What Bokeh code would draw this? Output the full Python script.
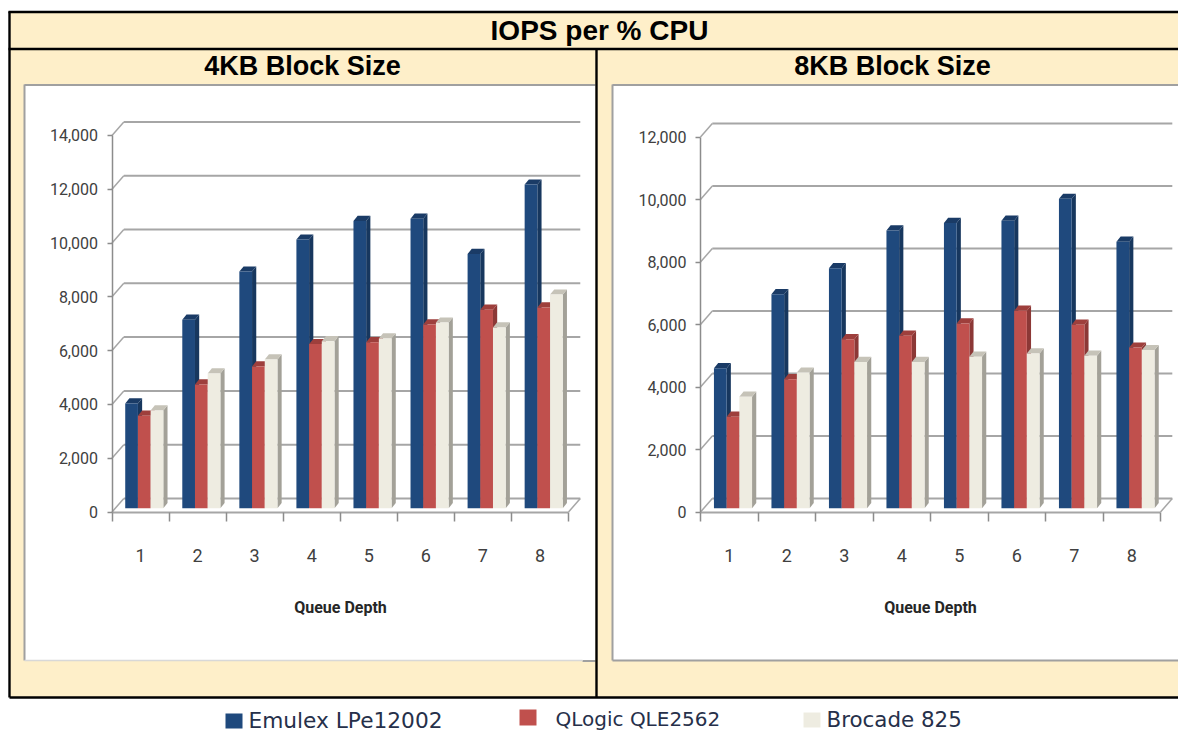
from bokeh.plotting import figure
from bokeh.models import Range1d, LinearAxis, FixedTicker, NumeralTickFormatter
from bokeh.core.properties import value
from bokeh.embed import file_html
from bokeh.resources import INLINE

queue_depth = [1, 2, 3, 4, 5, 6, 7, 8]
series_names = ["Emulex LPe12002", "QLogic QLE2562", "Brocade 825"]

emulex_4k = [3890, 7010, 8795, 9985, 10680, 10760, 9450, 12030]
qlogic_4k = [3440, 4600, 5270, 6100, 6170, 6830, 7380, 7460]
brocade_4k = [3630, 5010, 5530, 6210, 6310, 6900, 6720, 7940]

emulex_8k = [4480, 6850, 7680, 8890, 9130, 9200, 9900, 8530]
qlogic_8k = [2930, 4130, 5410, 5520, 5910, 6320, 5870, 5140]
brocade_8k = [3570, 4340, 4680, 4680, 4850, 4950, 4880, 5060]

yticks_4k = [0, 2000, 4000, 6000, 8000, 10000, 12000, 14000]
yticks_8k = [0, 2000, 4000, 6000, 8000, 10000, 12000]

BLUE = ("#1F497D", "#17375E", "#1A3B66")
RED = ("#C0504D", "#8C3836", "#9E3F3C")
CREAM = ("#EEECE1", "#A3A198", "#C6C3B8")
CREAM_BG = "#FEEFC9"
LABEL_FONT = "Roboto"

p = figure(width=1178, height=732, output_backend="svg", toolbar_location=None,
           x_range=Range1d(0, 1178), y_range=Range1d(732, 0),
           x_axis_location=None, y_axis_location=None, min_border=0)
p.grid.visible = False
p.outline_line_color = None
p.background_fill_color = "white"
p.border_fill_color = "white"

# page table
p.quad(left=[9, 9], right=[1178, 1178], top=[11, 48], bottom=[48, 697],
       fill_color=CREAM_BG, line_color=None)
p.quad(left=[24, 612], right=[595, 1178], top=[84, 84], bottom=[660, 660],
       fill_color="white", line_color=None)
GB = "#A0A0A0"
p.segment(x0=[24, 24, 612, 612, 612, 582], y0=[84.5, 84, 84.5, 84, 660, 660.5],
          x1=[595, 24, 1178, 612, 1178, 595], y1=[84.5, 660, 84.5, 660, 660, 660.5],
          line_color=GB, line_width=2)
p.segment(x0=[24], y0=[660], x1=[582], y1=[660], line_color="#D8D8D8", line_width=1.5)
p.segment(x0=[8, 8, 9, 9, 596], y0=[11.5, 48.5, 11, 697, 48],
          x1=[1178, 1178, 9, 1178, 596], y1=[11.5, 48.5, 697, 697, 697],
          line_color="black", line_width=2.4)


def title(x, y, s, size):
    p.text(x=[x], y=[y], text=[s], text_font=value("Liberation Sans"), text_font_style="bold",
           text_font_size=size, text_color="black", text_align="center", text_baseline="middle")


title(599, 30, "IOPS per % CPU", "28px")
title(302, 65, "4KB Block Size", "27px")
title(892, 65, "8KB Block Size", "27px")


def chart(key, x0, cat_w, y0, k, yticks, series):
    """x0,y0: pixel of the axes origin; cat_w: px per category; k: px per unit."""
    xr, yr = key + "x", key + "y"
    p.extra_x_ranges[xr] = Range1d(0.5 + (0 - x0) / cat_w, 0.5 + (1178 - x0) / cat_w)
    p.extra_y_ranges[yr] = Range1d((y0 - 732) / k, (y0 - 0) / k)
    top = yticks[-1]
    back_x, back_y = 11.8 / cat_w, 13.5 / k

    # back-wall gridlines and their connectors to the axis
    kw = dict(x_range_name=xr, y_range_name=yr, line_color="#A6A6A6", line_width=2)
    p.segment(x0=[0.5 + back_x] * len(yticks), x1=[8.5 + back_x] * len(yticks),
              y0=[v + back_y for v in yticks], y1=[v + back_y for v in yticks], **kw)
    kw["line_width"] = 1.5
    p.segment(x0=[0.5] * len(yticks), x1=[0.5 + back_x] * len(yticks),
              y0=yticks, y1=[v + back_y for v in yticks], **kw)
    p.segment(x0=[8.5], x1=[8.5 + back_x], y0=[0], y1=[back_y], **kw)

    # bars
    bw, dx, dy, lift = 12.7 / cat_w, 4.2 / cat_w, 5.2 / k, 3.8 / k
    start = -15.3 / cat_w
    for i, (vals, (front, side, cap)) in enumerate(series):
        lefts = [q + start + i * bw for q in queue_depth]
        rights = [l + bw for l in lefts]
        tops = [v + lift for v in vals]
        p.patches(xs=[[r, r + dx, r + dx, r] for r in rights],
                  ys=[[lift, lift + dy, t + dy, t] for t in tops],
                  fill_color=side, line_color=None, x_range_name=xr, y_range_name=yr)
        p.patches(xs=[[l, l + dx, r + dx, r] for l, r in zip(lefts, rights)],
                  ys=[[t, t + dy, t + dy, t] for t in tops],
                  fill_color=cap, line_color=None, x_range_name=xr, y_range_name=yr)
        p.quad(left=lefts, right=rights, bottom=[lift] * 8, top=tops,
               fill_color=front, line_color=None, x_range_name=xr, y_range_name=yr)

    # value axis
    ya = LinearAxis(x_range_name=xr, y_range_name=yr, fixed_location=0.5, bounds=(0, top),
                    ticker=FixedTicker(ticks=yticks), formatter=NumeralTickFormatter(format="0,0"),
                    major_tick_in=0, major_tick_out=5, minor_tick_line_color=None,
                    major_tick_line_color="#8C8C8C", major_tick_line_width=1.5,
                    axis_line_color="#8C8C8C", axis_line_width=1.5, major_label_standoff=9,
                    major_label_text_font=LABEL_FONT, major_label_text_font_size="16px",
                    major_label_text_color="#404040")
    p.add_layout(ya, "left")

    # category axis: labels at the centres, tick marks on the boundaries
    xl = LinearAxis(x_range_name=xr, y_range_name=yr, fixed_location=0, bounds=(0.5, 8.5),
                    ticker=FixedTicker(ticks=queue_depth,
                                       minor_ticks=[q - 0.5 for q in queue_depth] + [8.5]),
                    major_tick_line_color=None, major_tick_in=0, major_tick_out=0,
                    minor_tick_line_color="#8C8C8C", minor_tick_line_width=1.5,
                    minor_tick_in=0, minor_tick_out=9,
                    axis_line_color="#A6A6A6", axis_line_width=2,
                    major_label_standoff=28, major_label_text_font=LABEL_FONT,
                    major_label_text_font_size="18px", major_label_text_color="#404040",
                    axis_label="Queue Depth", axis_label_standoff=32,
                    axis_label_text_font=LABEL_FONT, axis_label_text_font_style="bold",
                    axis_label_text_font_size="16px", axis_label_text_color="#262626")
    p.add_layout(xl, "below")


chart("a", 111.5, 57.06, 511.5, 53.8 / 2000, yticks_4k,
      [(emulex_4k, BLUE), (qlogic_4k, RED), (brocade_4k, CREAM)])
chart("b", 700.0, 57.5, 511.5, 62.5 / 2000, yticks_8k,
      [(emulex_8k, BLUE), (qlogic_8k, RED), (brocade_8k, CREAM)])

# legend
p.quad(left=[225, 519, 803], right=[242, 536, 820], top=[713, 709, 712], bottom=[728, 725, 727],
       fill_color=[BLUE[0], RED[0], CREAM[0]], line_color=None)
for x, y, name, size in zip([248, 555, 826], [720, 718, 719], series_names, ["21.7px", "20px", "21.4px"]):
    p.text(x=[x], y=[y], text=[name], text_font=value("DejaVu Sans"), text_font_size=size,
           text_color="#26304A", text_align="left", text_baseline="middle")

open("out.html", "w").write(file_html(p, INLINE))
